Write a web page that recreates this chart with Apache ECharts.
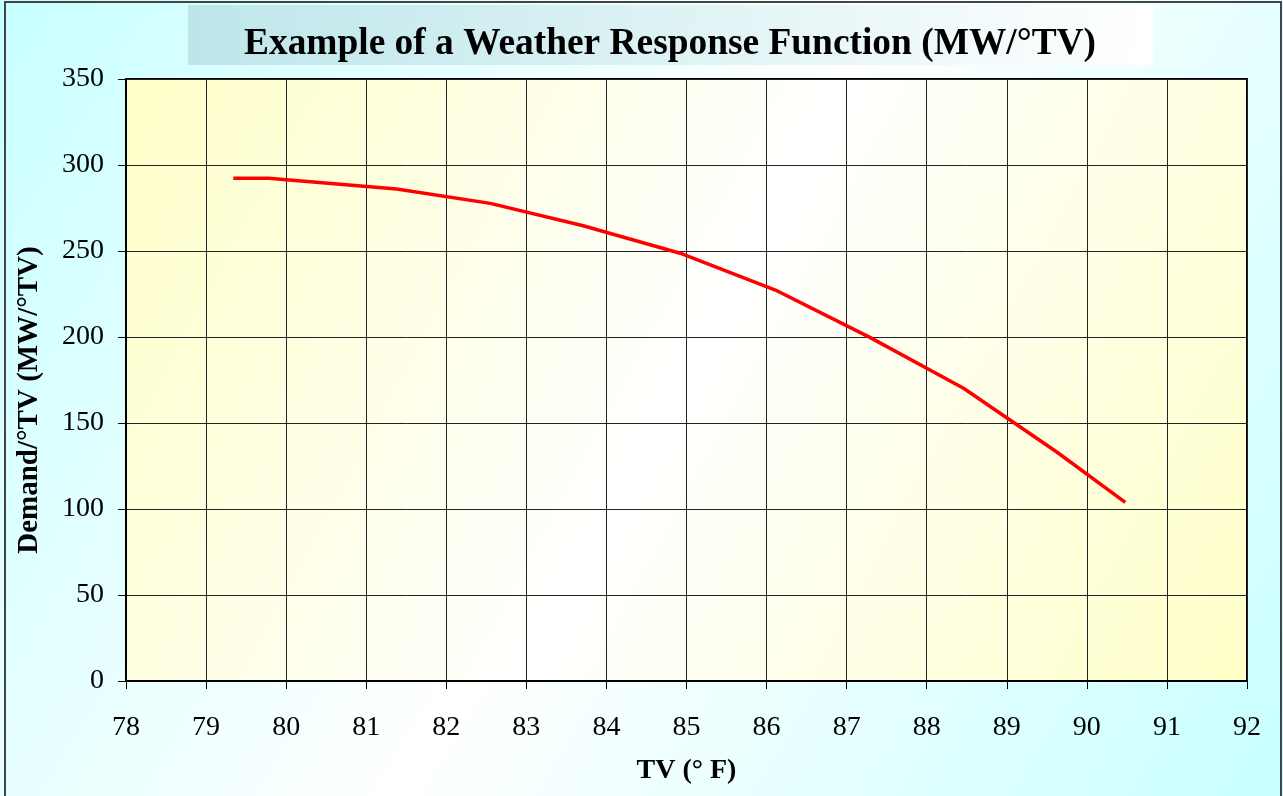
<!DOCTYPE html>
<html>
<head>
<meta charset="utf-8">
<title>Weather Response Function</title>
<script src="https://cdn.jsdelivr.net/npm/echarts@6/dist/echarts.min.js"></script>
<style>
    html, body { margin: 0; padding: 0; }
    #chart { width: 1283px; height: 796px; }
</style>
</head>
<body>
<div id="chart"></div>
<script>
// TV (°F) on x, demand per °TV (MW/°TV) on y
var tvValues = [79.34, 79.78, 81.38, 82.55, 83.71, 84.92, 86.11, 87.29, 88.46, 89.62, 90.48];
var demandValues = [292.3, 292.3, 286.0, 277.7, 264.7, 248.7, 227.3, 199.8, 170.2, 133.3, 103.9];

var titleText = 'Example of a Weather Response Function (MW/°TV)';
var xName = 'TV (° F)';
var yName = 'Demand/°TV (MW/°TV)';

var serif = 'Liberation Serif';

var points = tvValues.map(function (tv, i) { return [tv, demandValues[i]]; });

var chart = echarts.init(document.getElementById('chart'));

var option = {
    animation: false,
    graphic: [
        {
            // outer background
            type: 'rect', z: -10, silent: true,
            shape: { x: 0, y: 0, width: 1283, height: 796 },
            style: {
                fill: new echarts.graphic.LinearGradient(0, 0, 1, 1, [
                    { offset: 0, color: '#c8ffff' },
                    { offset: 0.5, color: '#ffffff' },
                    { offset: 1, color: '#c8ffff' }
                ])
            }
        },
        {
            type: 'rect', z: -9, silent: true,
            shape: { x: 5, y: 2, width: 1276, height: 800 },
            style: { fill: 'none', stroke: '#444', lineWidth: 2 }
        },
        {
            // title box
            type: 'rect', z: -8, silent: true,
            shape: { x: 188, y: 5, width: 965, height: 60 },
            style: {
                fill: new echarts.graphic.LinearGradient(0, 0, 1, 1, [
                    { offset: 0, color: '#bde6ea' },
                    { offset: 1, color: '#ffffff' }
                ])
            }
        }
    ],
    title: {
        text: titleText,
        left: 244,
        top: 26,
        padding: 0,
        textStyle: { fontFamily: serif, fontWeight: 'bold', fontSize: 37.4, color: '#000' }
    },
    grid: {
        left: 126, right: 36, top: 79, bottom: 115,
        show: true,
        borderColor: '#000',
        borderWidth: 2,
        backgroundColor: new echarts.graphic.LinearGradient(0, 0, 1, 1, [
            { offset: 0, color: '#ffffc8' },
            { offset: 0.5, color: '#ffffff' },
            { offset: 1, color: '#ffffc8' }
        ])
    },
    xAxis: {
        type: 'value',
        min: 78, max: 92, interval: 1,
        name: xName,
        nameLocation: 'middle',
        nameGap: 76,
        nameTextStyle: { fontFamily: serif, fontWeight: 'bold', fontSize: 28, color: '#000' },
        axisLine: { lineStyle: { color: '#000', width: 2 } },
        axisTick: { show: true, length: 8, lineStyle: { color: '#000' } },
        axisLabel: { margin: 33, fontFamily: serif, fontSize: 28, color: '#000' },
        splitLine: { show: true, lineStyle: { color: '#222', width: 1 } }
    },
    yAxis: {
        type: 'value',
        min: 0, max: 350, interval: 50,
        name: yName,
        nameLocation: 'middle',
        nameGap: 82,
        nameTextStyle: { fontFamily: serif, fontWeight: 'bold', fontSize: 29, color: '#000', padding: [0, 40, 0, 0] },
        axisLine: { show: true, lineStyle: { color: '#000', width: 2 } },
        axisTick: { show: true, length: 8, lineStyle: { color: '#000' } },
        axisLabel: { margin: 22, fontFamily: serif, fontSize: 28, color: '#000' },
        splitLine: { show: true, lineStyle: { color: '#222', width: 1 } }
    },
    series: [{
        type: 'line',
        data: points,
        showSymbol: false,
        lineStyle: { color: '#ff0000', width: 3.5 },
        itemStyle: { color: '#ff0000' }
    }]
};

chart.setOption(option);
</script>
</body>
</html>
